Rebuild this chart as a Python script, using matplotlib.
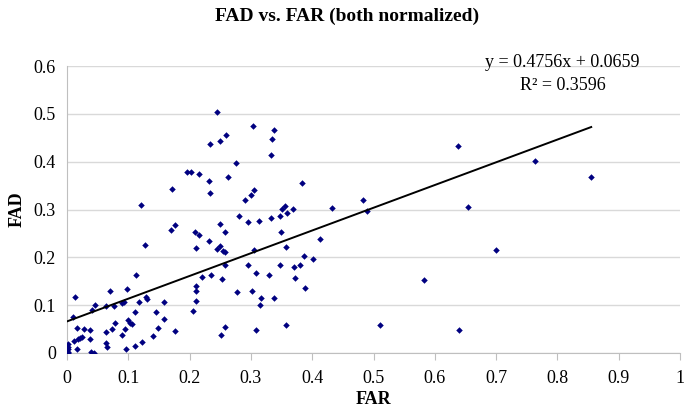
import numpy as np
import matplotlib
matplotlib.use("Agg")
import matplotlib.pyplot as plt

plt.rcParams['font.family'] = ['Liberation Serif', 'DejaVu Serif']

# FAR (x) and FAD (y), both normalized
far = [0.001, 0.001, 0.001, 0.001, 0.002, 0.010, 0.013, 0.011, 0.018, 0.021,
       0.025, 0.016, 0.016, 0.028, 0.038, 0.038, 0.039, 0.044, 0.046, 0.041,
       0.064, 0.064, 0.065, 0.063, 0.076, 0.070, 0.078, 0.074, 0.090, 0.093,
       0.098, 0.095, 0.090, 0.100, 0.103, 0.106, 0.097, 0.111, 0.111, 0.123,
       0.113, 0.117, 0.121, 0.127, 0.129, 0.131, 0.140, 0.145, 0.149, 0.158,
       0.159, 0.176, 0.170, 0.176, 0.171, 0.196, 0.202, 0.215, 0.231, 0.233,
       0.262, 0.275, 0.234, 0.249, 0.259, 0.245, 0.303, 0.337, 0.334, 0.332,
       0.291, 0.300, 0.305, 0.281, 0.296, 0.313, 0.333, 0.347, 0.351, 0.356,
       0.359, 0.369, 0.383, 0.208, 0.216, 0.250, 0.258, 0.231, 0.210, 0.244,
       0.250, 0.254, 0.258, 0.305, 0.349, 0.357, 0.386, 0.402, 0.412, 0.433,
       0.483, 0.489, 0.257, 0.296, 0.347, 0.370, 0.380, 0.221, 0.235, 0.253,
       0.308, 0.329, 0.372, 0.389, 0.210, 0.210, 0.210, 0.278, 0.301, 0.316,
       0.315, 0.338, 0.206, 0.257, 0.252, 0.309, 0.357, 0.511, 0.582, 0.638,
       0.654, 0.639, 0.700, 0.763, 0.855]
fad = [0.019, 0.013, 0.008, 0.002, 0.000, 0.075, 0.116, 0.025, 0.029, 0.031,
       0.034, 0.053, 0.008, 0.050, 0.047, 0.029, 0.002, 0.000, 0.100, 0.090,
       0.043, 0.020, 0.012, 0.099, 0.099, 0.130, 0.062, 0.050, 0.105, 0.107,
       0.134, 0.050, 0.038, 0.069, 0.063, 0.061, 0.008, 0.086, 0.015, 0.022,
       0.162, 0.107, 0.309, 0.225, 0.117, 0.112, 0.036, 0.086, 0.052, 0.072,
       0.107, 0.045, 0.257, 0.268, 0.342, 0.378, 0.378, 0.374, 0.359, 0.335,
       0.368, 0.397, 0.437, 0.443, 0.455, 0.503, 0.475, 0.466, 0.447, 0.415,
       0.319, 0.331, 0.340, 0.287, 0.273, 0.277, 0.283, 0.286, 0.301, 0.307,
       0.292, 0.301, 0.355, 0.253, 0.246, 0.270, 0.252, 0.235, 0.219, 0.218,
       0.224, 0.214, 0.211, 0.215, 0.252, 0.222, 0.202, 0.196, 0.239, 0.303,
       0.319, 0.297, 0.183, 0.184, 0.184, 0.180, 0.183, 0.158, 0.163, 0.154,
       0.167, 0.164, 0.157, 0.135, 0.140, 0.129, 0.109, 0.128, 0.129, 0.115,
       0.100, 0.115, 0.087, 0.054, 0.037, 0.048, 0.059, 0.059, 0.152, 0.432,
       0.306, 0.048, 0.215, 0.401, 0.369]

slope, intercept, r2 = 0.4756, 0.0659, 0.3596

fig = plt.figure(figsize=(6.94, 4.08), dpi=100)
ax = fig.add_axes([0.0965, 0.135, 0.8835, 0.703])

ax.scatter(far, fad, marker='D', s=11, color='#000080', zorder=3, linewidths=0)

xs = np.array([0, max(far)])
ax.plot(xs, slope * xs + intercept, color='black', lw=1.4, zorder=4)

ax.set_xlim(0, 1)
ax.set_ylim(0, 0.6)
ax.set_xticks(np.arange(0, 1.01, 0.1))
ax.set_xticklabels(['0', '0.1', '0.2', '0.3', '0.4', '0.5', '0.6', '0.7', '0.8', '0.9', '1'])
ax.set_yticks(np.arange(0, 0.61, 0.1))
ax.set_yticklabels(['0', '0.1', '0.2', '0.3', '0.4', '0.5', '0.6'])
ax.grid(axis='y', color='#d9d9d9', lw=1)
ax.set_axisbelow(True)
for s in ['top', 'right']:
    ax.spines[s].set_visible(False)
for s in ['left', 'bottom']:
    ax.spines[s].set_color('#bfbfbf')
ax.tick_params(axis='x', length=5, color='#bfbfbf', labelsize=13, pad=7)
ax.tick_params(axis='y', length=0, labelsize=13, pad=8)

ax.set_xlabel('FAR', fontsize=13, fontweight='bold', labelpad=3)
ax.set_ylabel('FAD', fontsize=13, fontweight='bold', labelpad=6)
fig.suptitle('FAD vs. FAR (both normalized)', fontsize=14, fontweight='bold', y=0.98)

ax.text(0.808, 1.014, 'y = %.4fx + %.4f' % (slope, intercept), transform=ax.transAxes,
        ha='center', va='center', fontsize=13)
ax.text(0.808, 0.934, 'R\u00b2 = %.4f' % r2, transform=ax.transAxes,
        ha='center', va='center', fontsize=13)

fig.savefig('out.png', dpi=100)
